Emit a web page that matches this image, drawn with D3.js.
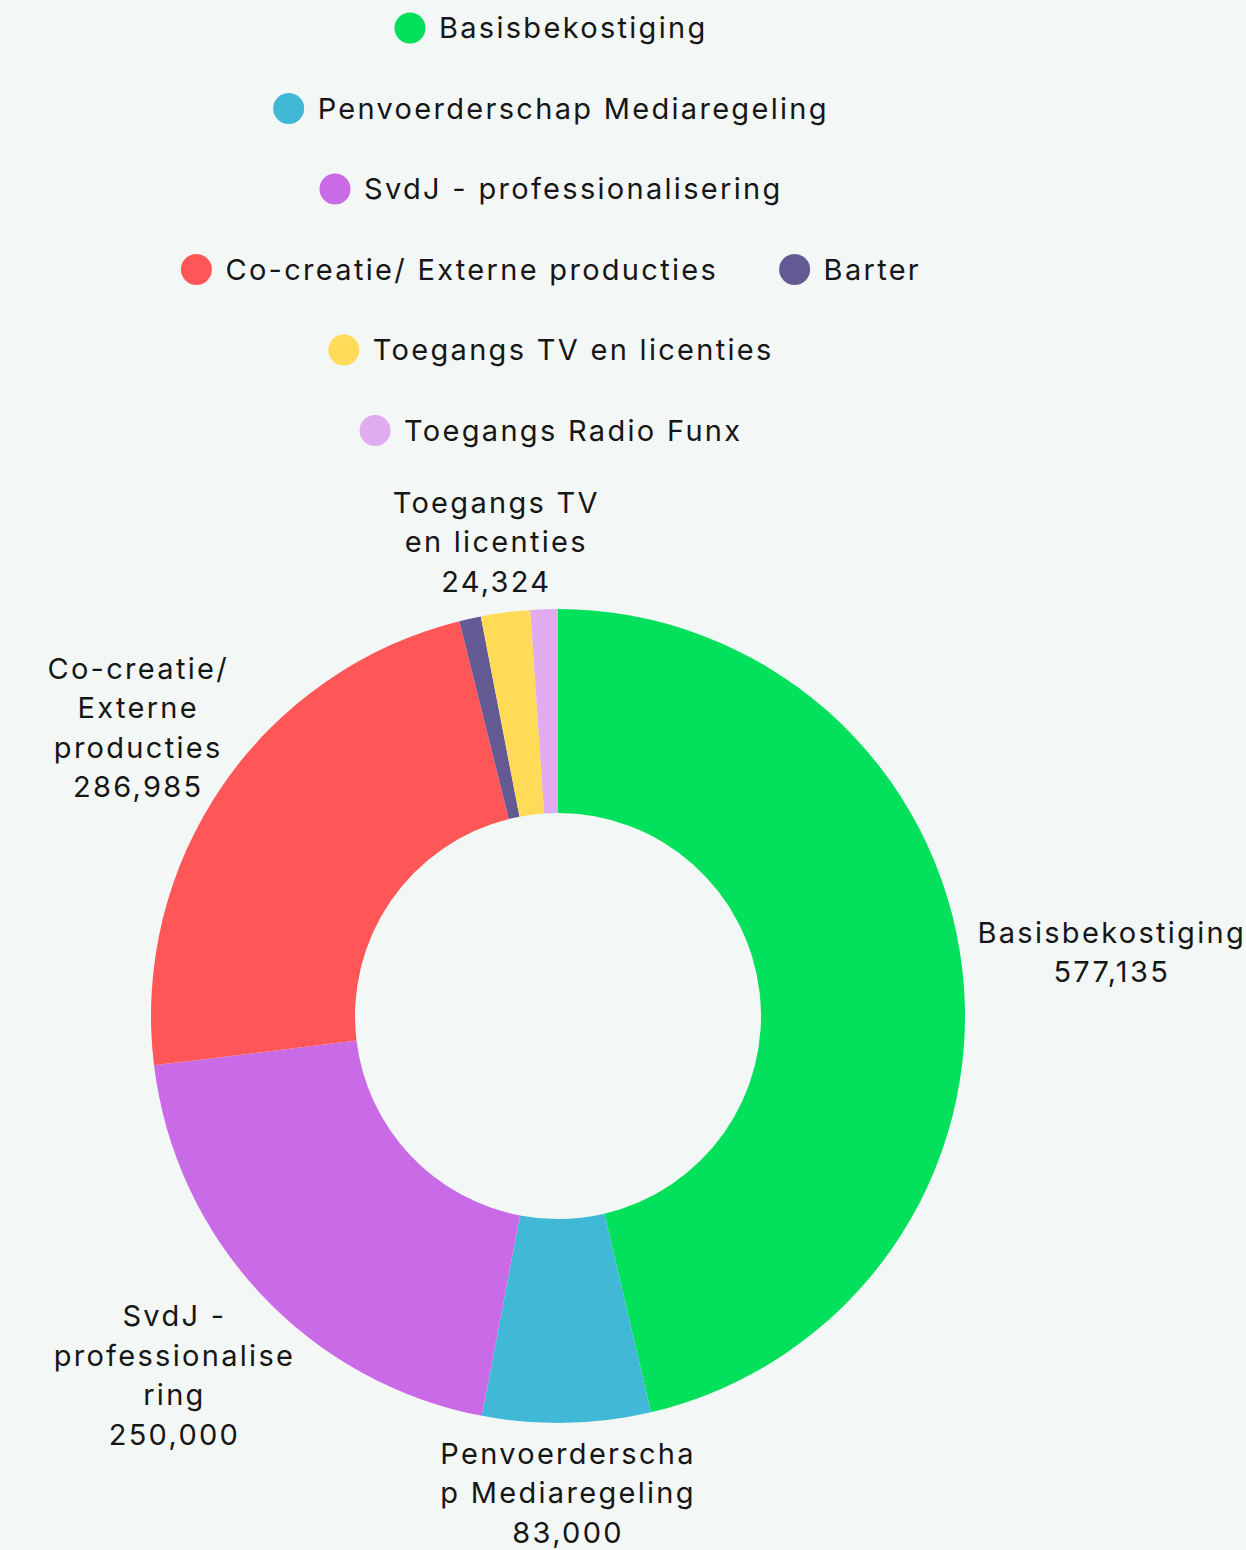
<!DOCTYPE html>
<html>
<head>
<meta charset="utf-8">
<script src="https://cdn.jsdelivr.net/npm/d3@7"></script>
<style>
  body { margin: 0; background: #f3f8f6; }
  text { font-family: Inter, "Noto Sans", sans-serif; fill: #161616; letter-spacing: 2.3px; }
</style>
</head>
<body>
<div id="chart"></div>
<script>
// data
const categories = ["Basisbekostiging", "Penvoerderschap Mediaregeling", "SvdJ - professionalisering",
  "Co-creatie/ Externe producties", "Barter", "Toegangs TV en licenties", "Toegangs Radio Funx"];
const values = [577135, 83000, 250000, 286985, 10700, 24324, 13500];
const colors = ["#02e05c", "#42b8d7", "#c96be6", "#ff5757", "#635a94", "#ffdb58", "#e0abef"];
// wrapped slice labels (null = no label shown)
const labelLines = [
  ["Basisbekostiging"],
  ["Penvoerderscha", "p Mediaregeling"],
  ["SvdJ -", "professionalise", "ring"],
  ["Co-creatie/", "Externe", "producties"],
  null,
  ["Toegangs TV", "en licenties"],
  null
];
const legendRows = [[0], [1], [2], [3, 4], [5], [6]];

const width = 1246, height = 1550;
const cx = 558, cy = 1016, outerR = 407, innerR = 203;
const fontSize = 29, lineH = 39.5;

const svg = d3.select("#chart").append("svg")
    .attr("width", width)
    .attr("height", height);

// legend
const legend = svg.append("g").style("font-size", fontSize + "px");
const legendCenter = 551, rowGap = 80.5, itemGap = 61, dotR = 15.5;

legendRows.forEach(function(row, r) {
    let rowG = legend.append("g");
    let x = 0;
    row.forEach(function(i) {
        let item = rowG.append("g").attr("transform", `translate(${x},0)`);
        item.append("circle")
            .attr("cx", dotR).attr("cy", 0).attr("r", dotR)
            .attr("fill", colors[i]);
        let t = item.append("text")
            .attr("x", dotR + 29)
            .attr("dy", "0.35em")
            .text(categories[i]);
        x += dotR + 29 + t.node().getComputedTextLength() + itemGap;
    });
    let w = x - itemGap;
    rowG.attr("transform", `translate(${legendCenter - w / 2},${28 + r * rowGap})`);
});

// donut
const pie = d3.pie().sort(null).value(d => d);
const arc = d3.arc().innerRadius(innerR).outerRadius(outerR);
const arcs = pie(values);

const g = svg.append("g").attr("transform", `translate(${cx},${cy})`);

g.selectAll("path")
    .data(arcs)
    .enter()
    .append("path")
    .attr("d", arc)
    .attr("fill", (d, i) => colors[i]);

// slice labels, pushed out along the mid angle
const fmt = d3.format(",");
arcs.forEach(function(d, i) {
    if (!labelLines[i]) return;
    let lines = labelLines[i].concat([fmt(values[i])]);
    let mid = (d.startAngle + d.endAngle) / 2;
    let dx = Math.sin(mid), dy = -Math.cos(mid);

    let lbl = g.append("text")
        .attr("text-anchor", "middle")
        .style("font-size", fontSize + "px");
    lines.forEach(function(s, k) {
        lbl.append("tspan").attr("x", 0).attr("y", k * lineH).text(s);
    });
    let bb = lbl.node().getBBox();
    let hw = bb.width / 2, hh = (bb.height - 8) / 2;
    let t = outerR + 17 + Math.hypot(dx * hw, dy * hh);
    let px = dx * t, py = dy * t;
    lbl.attr("transform", `translate(${px - (bb.x + hw)},${py - (bb.y + bb.height / 2)})`);
});
</script>
</body>
</html>
